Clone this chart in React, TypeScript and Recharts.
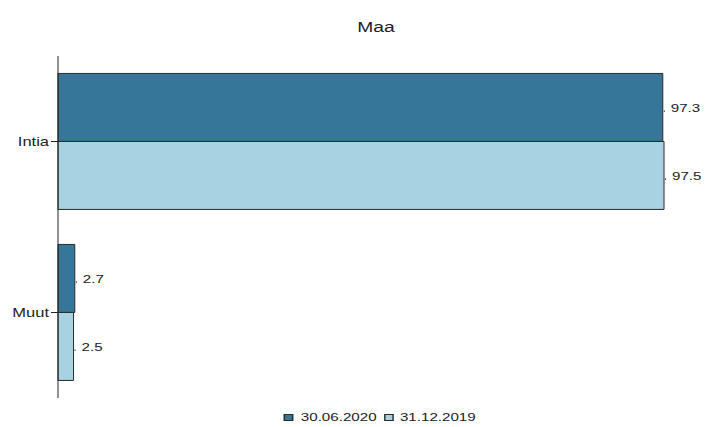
import React from "react";
import { BarChart, Bar, XAxis, YAxis, LabelList } from "recharts";

const categories = ["Intia", "Muut"];
const series2020 = [97.3, 2.7];
const series2019 = [97.5, 2.5];
const seriesNames = ["30.06.2020", "31.12.2019"];
const colors = ["#357699", "#a8d1e1"];

const data = categories.map((c, i) => ({ name: c, a: series2020[i], b: series2019[i] }));

const FONT = "'Liberation Sans', Arial, sans-serif";
const SX = 1.376;

const ValueLabel = (props: any) => {
  const { x, y, width, height, value } = props;
  const xe = x + width;
  const yc = y + height / 2;
  return (
    <g>
      <rect x={xe + 1} y={yc + 3} width={1} height={1.5} fill="#333" />
      <text
        transform={`translate(${xe + 8},${yc + 4.5}) scale(${SX},1)`}
        fontSize={11}
        fontFamily={FONT}
        fill="#222"
      >
        {value}
      </text>
    </g>
  );
};

const CatTick = (props: any) => {
  const { x, y, payload } = props;
  return (
    <text
      transform={`translate(${x},${y + 4}) scale(${SX},1)`}
      textAnchor="end"
      fontSize={12}
      fontFamily={FONT}
      fill="#222"
    >
      {payload.value}
    </text>
  );
};

export default function App() {
  return (
    <div style={{ position: "relative", width: 707, height: 419, fontFamily: FONT }}>
      <div
        style={{
          position: "absolute",
          top: 11,
          left: 0,
          width: 736,
          textAlign: "center",
          fontSize: 14,
          color: "#222",
          transform: `scaleX(${SX})`,
          transformOrigin: "368px 0",
        }}
      >
        Maa
      </div>
      <BarChart
        width={707}
        height={419}
        data={data}
        layout="vertical"
        margin={{ top: 48, right: 0, bottom: 29, left: 0 }}
        barCategoryGap="10.2%"
        barGap={0}
      >
        <XAxis
          type="number"
          domain={[0, 105.7]}
          tick={false}
          tickLine={false}
          height={0}
          axisLine={{ stroke: "#222" }}
        />
        <YAxis
          type="category"
          dataKey="name"
          width={50}
          tickSize={7}
          tickLine={{ stroke: "#222" }}
          axisLine={{ stroke: "#222" }}
          tick={<CatTick />}
        />
        <Bar dataKey="a" name={seriesNames[0]} fill={colors[0]} stroke="#2a2a2a" strokeWidth={1} isAnimationActive={false}>
          <LabelList dataKey="a" content={ValueLabel} />
        </Bar>
        <Bar dataKey="b" name={seriesNames[1]} fill={colors[1]} stroke="#2a2a2a" strokeWidth={1} isAnimationActive={false}>
          <LabelList dataKey="b" content={ValueLabel} />
        </Bar>
      </BarChart>
      <div
        style={{
          position: "absolute",
          top: 403,
          left: 0,
          width: 744,
          display: "flex",
          justifyContent: "center",
          fontSize: 11,
          color: "#222",
          transform: `scaleX(${SX})`,
          transformOrigin: "372px 0",
        }}
      >
        {seriesNames.map((n, i) => (
          <span key={n} style={{ display: "inline-flex", alignItems: "center", marginRight: i === 0 ? 5 : 0 }}>
            <span
              style={{
                display: "inline-block",
                width: 7,
                height: 7,
                background: colors[i],
                border: "1px solid #2a2a2a",
                marginRight: 5,
                boxSizing: "border-box",
              }}
            />
            {n}
          </span>
        ))}
      </div>
    </div>
  );
}
